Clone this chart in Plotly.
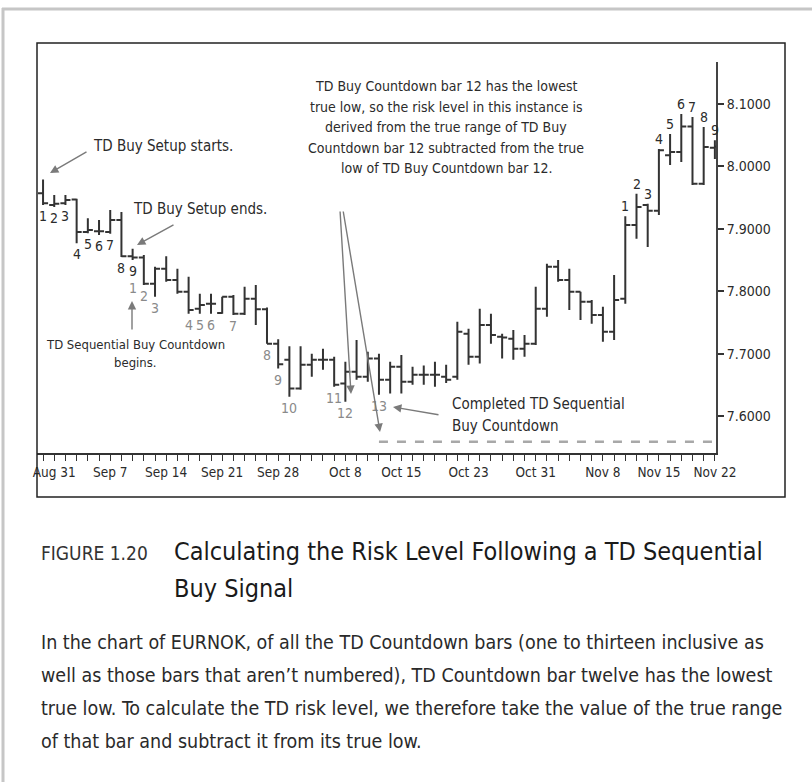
import plotly.graph_objects as go

# EURNOK daily bars, 30 Aug - 22 Nov 2007
dates = [
    "2007-08-30", "2007-08-31",
    "2007-09-03", "2007-09-04", "2007-09-05", "2007-09-06", "2007-09-07",
    "2007-09-10", "2007-09-11", "2007-09-12", "2007-09-13", "2007-09-14",
    "2007-09-17", "2007-09-18", "2007-09-19", "2007-09-20", "2007-09-21",
    "2007-09-24", "2007-09-25", "2007-09-26", "2007-09-27", "2007-09-28",
    "2007-10-01", "2007-10-02", "2007-10-03", "2007-10-04", "2007-10-05",
    "2007-10-08", "2007-10-09", "2007-10-10", "2007-10-11", "2007-10-12",
    "2007-10-15", "2007-10-16", "2007-10-17", "2007-10-18", "2007-10-19",
    "2007-10-22", "2007-10-23", "2007-10-24", "2007-10-25", "2007-10-26",
    "2007-10-29", "2007-10-30", "2007-10-31", "2007-11-01", "2007-11-02",
    "2007-11-05", "2007-11-06", "2007-11-07", "2007-11-08", "2007-11-09",
    "2007-11-12", "2007-11-13", "2007-11-14", "2007-11-15", "2007-11-16",
    "2007-11-19", "2007-11-20", "2007-11-21", "2007-11-22",
]
opens = [
    7.957, 7.938, 7.941, 7.947, 7.895, 7.896, 7.895, 7.914, 7.856, 7.854,
    7.812, 7.836, 7.818, 7.799, 7.772, 7.780, 7.765, 7.791, 7.764, 7.788,
    7.771, 7.716, 7.690, 7.644, 7.682, 7.690, 7.690, 7.652, 7.671, 7.663,
    7.692, 7.658, 7.679, 7.655, 7.666, 7.666, 7.663, 7.663, 7.732, 7.695,
    7.746, 7.727, 7.724, 7.708, 7.716, 7.772, 7.839, 7.818, 7.799, 7.783,
    7.762, 7.735, 7.788, 7.906, 7.938, 7.929, 8.018, 8.023, 8.064, 7.972,
    8.030,
]
highs = [
    7.979, 7.954, 7.954, 7.948, 7.917, 7.914, 7.930, 7.927, 7.868, 7.858,
    7.839, 7.856, 7.836, 7.823, 7.796, 7.796, 7.791, 7.794, 7.807, 7.810,
    7.774, 7.723, 7.712, 7.712, 7.700, 7.708, 7.695, 7.687, 7.722, 7.703,
    7.700, 7.687, 7.698, 7.679, 7.681, 7.687, 7.682, 7.751, 7.740, 7.772,
    7.764, 7.732, 7.738, 7.730, 7.807, 7.844, 7.850, 7.836, 7.799, 7.786,
    7.775, 7.826, 7.920, 7.956, 7.940, 8.028, 8.052, 8.084, 8.079, 8.063,
    8.042,
]
lows = [
    7.938, 7.935, 7.938, 7.877, 7.893, 7.890, 7.892, 7.855, 7.850, 7.810,
    7.791, 7.815, 7.796, 7.764, 7.764, 7.764, 7.764, 7.762, 7.762, 7.746,
    7.716, 7.676, 7.631, 7.642, 7.663, 7.674, 7.647, 7.623, 7.658, 7.655,
    7.634, 7.636, 7.636, 7.650, 7.650, 7.647, 7.653, 7.658, 7.682, 7.684,
    7.716, 7.692, 7.690, 7.695, 7.714, 7.759, 7.815, 7.770, 7.754, 7.748,
    7.719, 7.722, 7.780, 7.884, 7.871, 7.922, 8.002, 8.007, 7.970, 7.970,
    8.012,
]
closes = [
    7.941, 7.940, 7.946, 7.895, 7.898, 7.896, 7.914, 7.856, 7.854, 7.812,
    7.836, 7.818, 7.799, 7.770, 7.778, 7.780, 7.791, 7.764, 7.788, 7.771,
    7.716, 7.683, 7.644, 7.682, 7.690, 7.690, 7.650, 7.671, 7.663, 7.692,
    7.658, 7.679, 7.655, 7.666, 7.666, 7.666, 7.658, 7.735, 7.695, 7.746,
    7.730, 7.726, 7.708, 7.716, 7.772, 7.839, 7.818, 7.799, 7.783, 7.762,
    7.735, 7.786, 7.906, 7.935, 7.929, 8.026, 8.023, 8.064, 7.972, 8.031,
    8.032,
]

# x tick labels (only these dates are labelled)
date_labels = {
    "2007-08-31": "Aug 31", "2007-09-07": "Sep 7", "2007-09-14": "Sep 14",
    "2007-09-21": "Sep 21", "2007-09-28": "Sep 28", "2007-10-08": "Oct 8",
    "2007-10-15": "Oct 15", "2007-10-23": "Oct 23", "2007-10-31": "Oct 31",
    "2007-11-08": "Nov 8", "2007-11-15": "Nov 15", "2007-11-22": "Nov 22",
}
y_ticks = [7.6, 7.7, 7.8, 7.9, 8.0, 8.1]

# TD buy setup (1-9), TD sequential buy countdown (1-13), TD sell setup (1-9)
buy_setup_bars = [0, 1, 2, 3, 4, 5, 6, 7, 8]
countdown_bars = [8, 9, 10, 13, 14, 15, 17, 20, 21, 22, 26, 27, 30]
sell_setup_bars = [52, 53, 54, 55, 56, 57, 58, 59, 60]

FONT = "DejaVu Sans Condensed, Liberation Sans Narrow, Arial Narrow, sans-serif"
INK = "#2b2b2b"
GREY_TXT = "#8a8a8a"
ARROW = "#7a7a7a"

# plot area in page pixels
PX_L, PX_R, PX_T, PX_B = 37, 716, 62, 453


def px(x):
    return (x - PX_L) / (PX_R - PX_L)


def py(y):
    return (PX_B - y) / (PX_B - PX_T)


fig = go.Figure()
fig.add_trace(go.Ohlc(
    x=dates, open=opens, high=highs, low=lows, close=closes,
    increasing=dict(line=dict(color="#333333", width=2)),
    decreasing=dict(line=dict(color="#333333", width=2)),
    tickwidth=0.45, showlegend=False, hoverinfo="skip",
))

annotations = []

# bar numbers
for n, i in enumerate(buy_setup_bars, start=1):
    annotations.append(dict(
        x=dates[i], y=lows[i], xref="x", yref="y", text=str(n),
        showarrow=False, yanchor="top", yshift=-1,
        font=dict(family=FONT, size=14, color=INK),
    ))
for n, i in enumerate(countdown_bars, start=1):
    shift = -18 if i in buy_setup_bars else -1
    annotations.append(dict(
        x=dates[i], y=lows[i], xref="x", yref="y", text=str(n),
        showarrow=False, yanchor="top", yshift=shift,
        font=dict(family=FONT, size=14, color=GREY_TXT),
    ))
for n, i in enumerate(sell_setup_bars, start=1):
    annotations.append(dict(
        x=dates[i], y=highs[i], xref="x", yref="y", text=str(n),
        showarrow=False, yanchor="bottom", yshift=0,
        font=dict(family=FONT, size=14, color=INK),
    ))


def note(x, y, text, size=16, anchor="left", color=INK, align="left"):
    annotations.append(dict(
        x=px(x), y=py(y), xref="paper", yref="paper", text=text,
        showarrow=False, xanchor=anchor, yanchor="middle", align=align,
        font=dict(family=FONT, size=size, color=color),
    ))


def arrow(tail, tip):
    annotations.append(dict(
        x=px(tip[0]), y=py(tip[1]), xref="paper", yref="paper", text="",
        showarrow=True, ax=tail[0] - tip[0], ay=tail[1] - tip[1],
        arrowhead=2, arrowsize=1.2, arrowwidth=1.4, arrowcolor=ARROW,
        standoff=0,
    ))


note(91, 146, "TD Buy Setup starts.", size=15)
arrow((88, 151), (50, 173))
note(131, 209, "TD Buy Setup ends.", size=15)
arrow((175, 224), (137, 245))
note(135, 344, "TD Sequential Buy Countdown", size=13, anchor="center")
note(135, 362, "begins.", size=13, anchor="center")
arrow((132, 331), (132, 301))

block = [
    "TD Buy Countdown bar 12 has the lowest",
    "true low, so the risk level in this instance is",
    "derived from the true range of TD Buy",
    "Countdown bar 12 subtracted from the true",
    "low of TD Buy Countdown bar 12.",
]
for k, line in enumerate(block):
    note(446, 86 + 20.5 * k, line, size=14, anchor="center")
arrow((340, 210), (351, 394))
arrow((343, 210), (380, 432))

note(450, 404, "Completed TD Sequential", size=15)
note(450, 426, "Buy Countdown", size=15)
arrow((440, 415), (393, 407))

# caption
note(39, 553, "FIGURE 1.20", size=19, color="#333333")
note(172, 551, "Calculating the Risk Level Following a TD Sequential", size=25, color="#1a1a1a")
note(172, 588, "Buy Signal", size=25, color="#1a1a1a")
body = [
    "In the chart of EURNOK, of all the TD Countdown bars (one to thirteen inclusive as",
    "well as those bars that aren\u2019t numbered), TD Countdown bar twelve has the lowest",
    "true low. To calculate the TD risk level, we therefore take the value of the true range",
    "of that bar and subtract it from its true low.",
]
for k, line in enumerate(body):
    note(39, 642 + 33 * k, line, size=19.5, color="#2a2a2a")

# risk level: true low of countdown bar 12 minus its true range
bar12 = countdown_bars[11]
risk = lows[bar12] - (highs[bar12] - lows[bar12])

shapes = [
    dict(type="line", xref="paper", yref="paper", x0=px(3), x1=px(3), y0=py(8), y1=py(782),
         line=dict(color="#c6c6c6", width=3)),
    dict(type="line", xref="paper", yref="paper", x0=px(2), x1=px(812), y0=py(9), y1=py(9),
         line=dict(color="#c6c6c6", width=3)),
    dict(type="rect", xref="paper", yref="paper", x0=px(37), x1=px(785), y0=py(43), y1=py(497),
         line=dict(color="#222222", width=1.5)),
    dict(type="line", xref="x", yref="y", x0=dates[countdown_bars[-1]], x1=dates[-1], y0=risk, y1=risk,
         line=dict(color="#a8a8a8", width=2.5, dash="dash")),
]

fig.update_layout(
    width=812, height=782,
    margin=dict(l=PX_L, r=812 - PX_R, t=PX_T, b=782 - PX_B),
    paper_bgcolor="white", plot_bgcolor="white",
    showlegend=False,
    annotations=annotations, shapes=shapes,
    font=dict(family=FONT, size=15, color=INK),
    xaxis=dict(
        type="category", range=[-0.54, 60.1],
        tickvals=dates, ticktext=[date_labels.get(d, "") for d in dates],
        ticks="outside", ticklen=6, tickwidth=1.2, tickcolor="#333333",
        showline=True, linecolor="#333333", linewidth=1.5,
        showgrid=False, zeroline=False, rangeslider=dict(visible=False),
        tickfont=dict(family=FONT, size=13.5, color=INK), tickangle=0,
    ),
    yaxis=dict(
        side="right", range=[7.5408, 8.1672], tickvals=y_ticks, tickformat=".4f",
        ticks="outside", ticklen=6, tickwidth=1.5, tickcolor="#333333",
        showline=True, linecolor="#444444", linewidth=2,
        showgrid=False, zeroline=False,
        tickfont=dict(family=FONT, size=14, color=INK),
    ),
)

# the page has the default 8px body margin; remove it so the figure sits at the corner
fig.write_html("out.html", config={"displayModeBar": False},
               post_script="document.body.style.margin='0';")
